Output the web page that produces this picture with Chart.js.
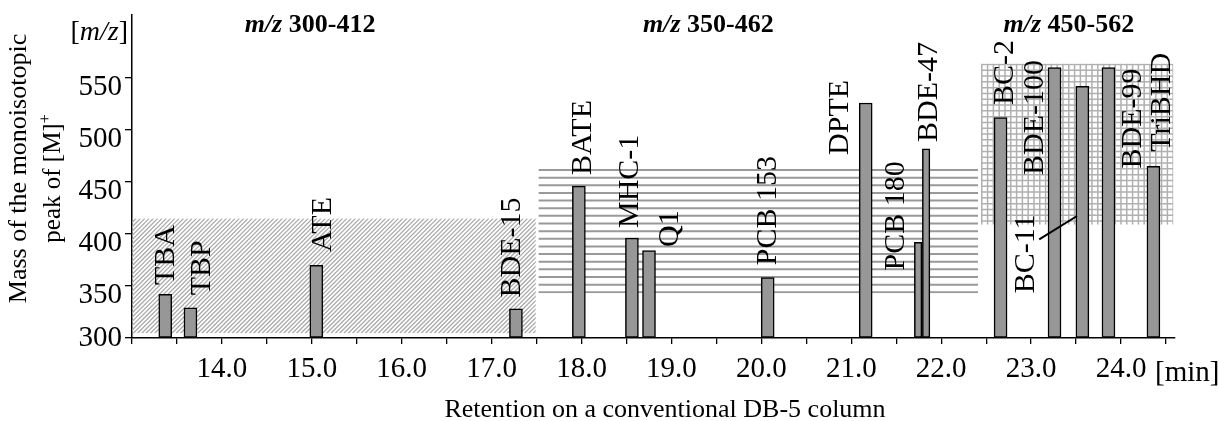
<!DOCTYPE html>
<html lang="en">
  <head>
    <meta charset="UTF-8" />
    <title>Retention vs m/z</title>
    <script src="https://cdn.jsdelivr.net/npm/chart.js"></script>
    <style>
      html, body { margin: 0; padding: 0; background: #fff; overflow: hidden; }
      canvas { display: block; }
    </style>
  </head>
  <body>
    <canvas id="chart" width="1219" height="421"></canvas>
    <script>
      // compounds, retention on DB-5 [min], monoisotopic [M]+ [m/z]
      const compounds = ["TBA", "TBP", "ATE", "BDE-15", "BATE", "MHC-1", "Q1", "PCB 153",
        "DPTE", "PCB 180", "BDE-47", "BC-2", "BDE-100", "BC-11", "BDE-99", "TriBHD"];
      const retention = [13.37, 13.65, 15.05, 17.27, 17.97, 18.56, 18.75, 20.07,
        21.16, 21.743, 21.832, 22.66, 23.26, 23.57, 23.86, 24.36];
      const mass = [342, 329, 370, 328, 446, 396, 384, 358,
        526, 392, 482, 512, 560, 542, 560, 465];
      // co-eluting pair, drawn as half-width bars
      const narrow = ["PCB 180", "BDE-47"];

      const xTicks = [13.0, 13.5, 14.0, 14.5, 15.0, 15.5, 16.0, 16.5, 17.0, 17.5, 18.0, 18.5,
        19.0, 19.5, 20.0, 20.5, 21.0, 21.5, 22.0, 22.5, 23.0, 23.5, 24.0, 24.5];
      const yTicks = [300, 350, 400, 450, 500, 550];

      // SIM windows
      const windowNames = ["300-412", "350-462", "450-562"];
      const windowTime = [[13.0, 17.49], [17.52, 22.41], [22.44, 24.58]];
      const windowMass = [[304.5, 415], [343, 462.5], [409, 564]];
      const windowTitleAt = [14.98, 19.41, 23.42];

      // name anchors (centre / bottom of the rotated text)
      const labelTime = [13.375, 13.78, 15.13, 17.23, 18.02, 18.54, 18.98, 20.08,
        20.88, 21.5, 21.86, 22.71, 23.04, 22.94, 24.13, 24.46];
      const labelMass = [351, 341, 382.7, 339, 456.7, 405.8, 387.5, 370,
        476, 365, 488.5, 524, 456.7, 343, 463, 479];

      const serif = "'Liberation Serif', 'Times New Roman', serif";
      Chart.defaults.font.family = serif;
      Chart.defaults.color = "#000";

      const wide = [], thin = [];
      compounds.forEach((c, i) => {
        const pt = { x: retention[i], y: mass[i] };
        if (narrow.includes(c)) thin.push(pt);
        else wide.push(pt);
      });

      function rotText(ctx, text, x, y) {
        ctx.save();
        ctx.translate(x, y);
        ctx.rotate(-Math.PI / 2);
        ctx.fillText(text, 0, 0);
        ctx.restore();
      }

      const extras = {
        id: "extras",
        beforeDatasetsDraw(chart) {
          const { ctx, scales: { x, y } } = chart;
          windowTime.forEach((t, i) => {
            const left = x.getPixelForValue(t[0]);
            const right = x.getPixelForValue(t[1]);
            const top = y.getPixelForValue(windowMass[i][1]);
            const bottom = y.getPixelForValue(windowMass[i][0]);
            ctx.save();
            ctx.beginPath();
            ctx.rect(left, top, right - left, bottom - top);
            ctx.clip();
            ctx.beginPath();
            if (i === 0) {
              ctx.strokeStyle = "#aaaaaa";
              ctx.lineWidth = 1.3;
              const h = bottom - top;
              for (let sx = left - h; sx < right; sx += 4.3) {
                ctx.moveTo(sx, bottom);
                ctx.lineTo(sx + h, top);
              }
            } else if (i === 1) {
              ctx.strokeStyle = "#999999";
              ctx.lineWidth = 2;
              const n = 16;
              const step = (bottom - top - 2) / n;
              for (let k = 0; k <= n; k++) {
                const yy = top + 1 + k * step;
                ctx.moveTo(left, yy);
                ctx.lineTo(right, yy);
              }
            } else {
              ctx.strokeStyle = "#b0b0b0";
              ctx.lineWidth = 1.5;
              for (let xx = left + 1; xx < right; xx += 5.8) {
                ctx.moveTo(xx, top);
                ctx.lineTo(xx, bottom);
              }
              for (let yy = top + 1; yy < bottom; yy += 5.8) {
                ctx.moveTo(left, yy);
                ctx.lineTo(right, yy);
              }
            }
            ctx.stroke();
            ctx.restore();
          });
        },
        afterDatasetsDraw(chart) {
          const { ctx, scales: { x, y } } = chart;
          ctx.save();
          ctx.fillStyle = "#000";

          // compound names
          ctx.font = "30px " + serif;
          ctx.textAlign = "left";
          ctx.textBaseline = "middle";
          compounds.forEach((c, i) => {
            rotText(ctx, c, x.getPixelForValue(labelTime[i]), y.getPixelForValue(labelMass[i]));
          });

          // leader for BC-11
          ctx.strokeStyle = "#000";
          ctx.lineWidth = 2;
          ctx.beginPath();
          ctx.moveTo(x.getPixelForValue(23.09), y.getPixelForValue(394.9));
          ctx.lineTo(x.getPixelForValue(23.51), y.getPixelForValue(417.3));
          ctx.stroke();

          // window titles
          ctx.textBaseline = "alphabetic";
          windowNames.forEach((name, i) => {
            const it = "bold italic 26px " + serif;
            const bd = "bold 26px " + serif;
            ctx.font = it;
            const w1 = ctx.measureText("m/z").width;
            ctx.font = bd;
            const w2 = ctx.measureText(" " + name).width;
            const x0 = x.getPixelForValue(windowTitleAt[i]) - (w1 + w2) / 2;
            ctx.font = it;
            ctx.fillText("m/z", x0, 32);
            ctx.font = bd;
            ctx.fillText(" " + name, x0 + w1, 32);
          });

          // [m/z] unit at the top of the y axis
          ctx.textAlign = "right";
          ctx.font = "28px " + serif;
          let rx = 128;
          ctx.fillText("]", rx, 40);
          rx -= ctx.measureText("]").width;
          ctx.font = "italic 28px " + serif;
          ctx.fillText("m/z", rx, 40);
          rx -= ctx.measureText("m/z").width;
          ctx.font = "28px " + serif;
          ctx.fillText("[", rx, 40);

          // [min] after the last label
          ctx.textAlign = "left";
          ctx.font = "29px " + serif;
          ctx.fillText("[min]", 1155, 381);

          // axis titles
          ctx.font = "26px " + serif;
          ctx.textAlign = "center";
          ctx.fillText("Retention on a conventional DB-5 column", 665, 417);

          rotText(ctx, "Mass of the monoisotopic", 26, 168.5);

          const main = "peak of [M]";
          ctx.font = "25px " + serif;
          const w = ctx.measureText(main).width;
          ctx.font = "16px " + serif;
          const ws = ctx.measureText("+").width;
          ctx.save();
          ctx.translate(60, 178.5);
          ctx.rotate(-Math.PI / 2);
          ctx.textAlign = "left";
          ctx.font = "25px " + serif;
          ctx.fillText(main, -(w + ws) / 2, 0);
          ctx.font = "16px " + serif;
          ctx.fillText("+", -(w + ws) / 2 + w, -10);
          ctx.restore();

          ctx.restore();
        },
      };

      const barStyle = {
        backgroundColor: "#979797",
        borderColor: "#000",
        borderWidth: 1.5,
        borderSkipped: false,
        stack: "rt",
        base: 300,
      };

      new Chart("chart", {
        type: "bar",
        data: {
          datasets: [
            Object.assign({ data: wide, barThickness: 13 }, barStyle),
            Object.assign({ data: thin, barThickness: 7.5 }, barStyle),
          ],
        },
        options: {
          responsive: false,
          animation: false,
          devicePixelRatio: 1,
          layout: { padding: { top: 15, right: 44, bottom: 0, left: 0 } },
          plugins: { legend: { display: false }, tooltip: { enabled: false } },
          scales: {
            x: {
              type: "linear",
              min: 13,
              max: 24.6,
              offset: false,
              afterBuildTicks: (s) => { s.ticks = xTicks.map((v) => ({ value: v })); },
              afterFit: (s) => { s.height = 83; s.paddingLeft = 0; s.paddingRight = 0; },
              grid: { display: true, offset: false, drawOnChartArea: false, drawTicks: true, tickLength: 6, color: "#000", lineWidth: 1.3 },
              border: { display: true, color: "#000", width: 1.5 },
              ticks: {
                padding: 8,
                autoSkip: false,
                maxRotation: 0,
                font: { size: 29, lineHeight: 1.2 },
                callback: (v) => (Number.isInteger(v) && v >= 14 ? v.toFixed(1) : ""),
              },
            },
            y: {
              type: "linear",
              min: 300,
              max: 610.6,
              stacked: false,
              afterBuildTicks: (s) => { s.ticks = yTicks.map((v) => ({ value: v })); },
              afterFit: (s) => { s.width = 132; s.paddingTop = 0; s.paddingBottom = 0; },
              grid: { display: true, drawOnChartArea: false, drawTicks: true, tickLength: 7, color: "#000", lineWidth: 1.3 },
              border: { display: true, color: "#000", width: 1.5 },
              ticks: {
                padding: 3,
                font: { size: 29, lineHeight: 0.62 },
                // labels above 300 hang slightly below their tick
                callback: (v) => (v === 300 ? "300" : ["", String(v)]),
              },
            },
          },
        },
        plugins: [extras],
      });
    </script>
  </body>
</html>
